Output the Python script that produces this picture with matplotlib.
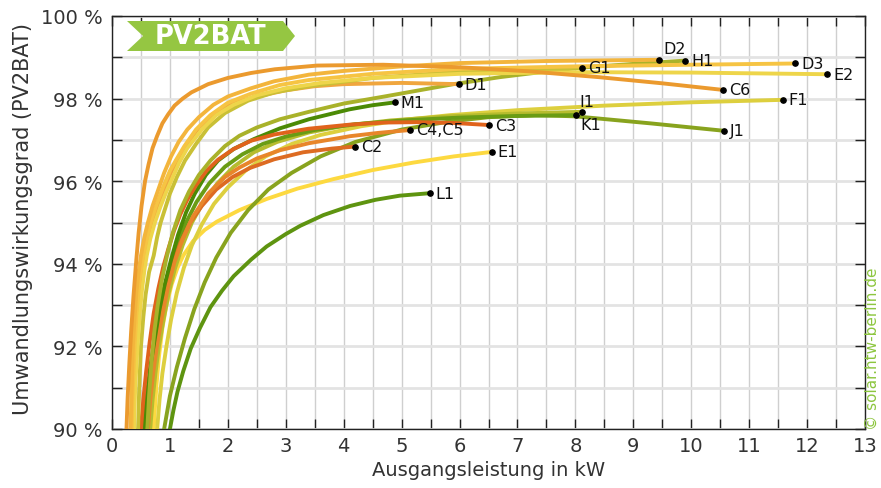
import numpy as np
import matplotlib
matplotlib.use('Agg')
import matplotlib.pyplot as plt
from matplotlib.patches import Polygon

# efficiency curves: output power (kW) and efficiency (%)
c6_kw = [0.25, 0.27, 0.3, 0.33, 0.37, 0.42, 0.46, 0.51, 0.57, 0.63, 0.7, 0.78, 0.87, 0.97, 1.08, 1.22, 1.37,
         1.66, 2.0, 2.4, 2.81, 3.54, 4.68, 6.0, 7.2, 8.4, 9.5, 10.55]
c6_eta = [90.0, 90.75, 91.6, 92.35, 93.2, 94.1, 94.75, 95.4, 96.0, 96.4, 96.8, 97.1, 97.4, 97.62, 97.83, 98.0, 98.15,
          98.35, 98.5, 98.62, 98.71, 98.8, 98.82, 98.76, 98.66, 98.52, 98.37, 98.21]

d2_kw = [0.32, 0.34, 0.36, 0.39, 0.42, 0.46, 0.5, 0.56, 0.62, 0.7, 0.8, 0.9, 1.02, 1.15, 1.3, 1.5, 1.75, 2.0,
         2.4, 2.8, 3.4, 4.0, 5.0, 6.0, 7.5, 9.45]
d2_eta = [90.0, 91.0, 92.0, 92.7, 93.3, 93.8, 94.2, 94.65, 95.0, 95.4, 95.8, 96.2, 96.6, 96.95, 97.25, 97.55, 97.85, 98.05,
          98.25, 98.42, 98.58, 98.67, 98.78, 98.86, 98.91, 98.94]

d3_kw = [0.34, 0.36, 0.39, 0.42, 0.46, 0.5, 0.54, 0.6, 0.67, 0.76, 0.88, 1.0, 1.1, 1.25, 1.45, 1.7, 2.0, 2.4,
         2.9, 3.4, 4.5, 6.0, 8.0, 10.0, 11.8]
d3_eta = [90.0, 91.0, 92.0, 92.75, 93.4, 93.85, 94.2, 94.6, 95.0, 95.4, 95.85, 96.25, 96.5, 96.85, 97.25, 97.6, 97.9, 98.12,
          98.33, 98.45, 98.6, 98.72, 98.78, 98.82, 98.85]

e2_kw = [0.38, 0.4, 0.44, 0.48, 0.52, 0.56, 0.6, 0.66, 0.74, 0.84, 0.94, 1.05, 1.16, 1.3, 1.55, 1.8, 2.1, 2.5,
         3.0, 3.6, 4.5, 6.0, 8.0, 10.0, 12.35]
e2_eta = [90.0, 91.0, 92.0, 92.8, 93.4, 93.85, 94.2, 94.6, 95.0, 95.4, 95.75, 96.1, 96.45, 96.8, 97.25, 97.6, 97.85, 98.08,
          98.25, 98.38, 98.5, 98.6, 98.64, 98.63, 98.59]

g1_kw = [0.45, 0.47, 0.5, 0.54, 0.58, 0.64, 0.72, 0.78, 0.84, 0.92, 1.0, 1.12, 1.26, 1.45, 1.66, 1.95, 2.35, 2.8,
         3.4, 4.5, 6.0, 8.12]
g1_eta = [90.0, 91.0, 92.0, 92.7, 93.25, 93.8, 94.2, 94.65, 95.0, 95.35, 95.7, 96.1, 96.5, 96.9, 97.3, 97.65, 97.95, 98.15,
          98.3, 98.5, 98.65, 98.75]

d1_kw = [0.36, 0.38, 0.42, 0.45, 0.48, 0.52, 0.57, 0.63, 0.7, 0.8, 0.9, 1.0, 1.12, 1.3, 1.5, 1.8, 2.1, 2.5,
         3.0, 3.5, 4.0, 5.0, 5.99]
d1_eta = [90.0, 91.0, 92.0, 92.7, 93.2, 93.75, 94.2, 94.6, 95.0, 95.45, 95.8, 96.15, 96.5, 96.9, 97.3, 97.65, 97.9, 98.05,
          98.2, 98.3, 98.35, 98.38, 98.35]

h1_kw = [0.61, 0.64, 0.68, 0.73, 0.79, 0.86, 0.95, 1.05, 1.18, 1.33, 1.5, 1.7, 1.95, 2.2, 2.5, 2.9, 3.4, 4.0,
         4.7, 5.3, 5.9, 6.7, 7.4, 8.1, 9.0, 9.9]
h1_eta = [90.0, 90.8, 91.6, 92.35, 93.0, 93.6, 94.2, 94.75, 95.3, 95.75, 96.15, 96.5, 96.85, 97.1, 97.3, 97.5, 97.68, 97.88,
          98.05, 98.2, 98.35, 98.52, 98.64, 98.75, 98.84, 98.92]

c3_kw = [0.5, 0.54, 0.59, 0.65, 0.72, 0.8, 0.88, 0.97, 1.07, 1.18, 1.3, 1.45, 1.63, 1.83, 2.1, 2.4, 2.8, 3.39,
         4.11, 4.7, 5.26, 5.9, 6.51]
c3_eta = [90.0, 90.7, 91.4, 92.1, 92.8, 93.4, 93.9, 94.35, 94.8, 95.2, 95.55, 95.9, 96.25, 96.52, 96.78, 96.98, 97.13, 97.27,
          97.37, 97.42, 97.43, 97.41, 97.36]

m1_kw = [0.55, 0.6, 0.66, 0.74, 0.82, 0.91, 1.02, 1.14, 1.28, 1.43, 1.62, 1.83, 2.1, 2.45, 2.9, 3.4, 4.1, 4.5, 4.89]
m1_eta = [90.0, 90.8, 91.5, 92.2, 92.9, 93.5, 94.1, 94.7, 95.25, 95.7, 96.15, 96.5, 96.78, 97.02, 97.28, 97.5, 97.74, 97.84, 97.91]

c45_kw = [0.62, 0.66, 0.71, 0.78, 0.86, 0.96, 1.08, 1.22, 1.4, 1.66, 1.95, 2.2, 2.5, 2.9, 3.4, 4.11, 4.6, 5.15]
c45_eta = [90.0, 90.7, 91.35, 92.05, 92.7, 93.4, 94.05, 94.6, 95.15, 95.7, 96.1, 96.33, 96.55, 96.75, 96.92, 97.09, 97.17, 97.24]

c2_kw = [0.58, 0.62, 0.67, 0.74, 0.82, 0.92, 1.04, 1.18, 1.35, 1.55, 1.8, 2.08, 2.38, 2.8, 3.3, 3.8, 4.2]
c2_eta = [90.0, 90.7, 91.35, 92.05, 92.7, 93.35, 93.95, 94.5, 95.0, 95.4, 95.8, 96.1, 96.32, 96.53, 96.7, 96.79, 96.84]

k1_kw = [0.58, 0.62, 0.67, 0.73, 0.8, 0.89, 1.0, 1.13, 1.28, 1.46, 1.68, 1.95, 2.25, 2.6, 3.0, 3.5, 4.2, 5.0,
         6.0, 7.0, 8.01]
k1_eta = [90.0, 90.7, 91.35, 92.0, 92.6, 93.25, 93.9, 94.5, 95.0, 95.5, 95.95, 96.35, 96.65, 96.9, 97.08, 97.24, 97.38, 97.47,
          97.54, 97.58, 97.6]

i1_kw = [0.66, 0.7, 0.75, 0.81, 0.89, 0.98, 1.09, 1.22, 1.38, 1.58, 1.82, 2.1, 2.45, 2.85, 3.4, 4.0, 4.8, 5.8,
         7.0, 8.11]
i1_eta = [90.0, 90.7, 91.35, 92.0, 92.65, 93.3, 93.9, 94.45, 95.0, 95.5, 95.95, 96.35, 96.7, 96.95, 97.18, 97.34, 97.47, 97.57,
          97.64, 97.68]

f1_kw = [0.78, 0.82, 0.87, 0.94, 1.02, 1.12, 1.24, 1.38, 1.55, 1.76, 2.0, 2.3, 2.65, 3.1, 3.6, 4.3, 5.0, 5.84,
         7.0, 8.5, 10.0, 11.58]
f1_eta = [90.0, 90.7, 91.35, 92.0, 92.65, 93.3, 93.9, 94.45, 94.95, 95.45, 95.85, 96.25, 96.6, 96.9, 97.12, 97.33, 97.48, 97.6,
          97.72, 97.83, 97.91, 97.97]

j1_kw = [0.9, 1.0, 1.12, 1.26, 1.42, 1.6, 1.8, 2.05, 2.35, 2.7, 3.1, 3.6, 4.2, 5.0, 5.8, 6.5, 7.3, 8.0, 9.3, 10.57]
j1_eta = [90.0, 90.8, 91.5, 92.2, 92.9, 93.55, 94.15, 94.75, 95.3, 95.8, 96.2, 96.6, 96.95, 97.25, 97.44, 97.55, 97.6, 97.57,
          97.4, 97.22]

e1_kw = [0.72, 0.74, 0.77, 0.81, 0.87, 0.94, 1.03, 1.13, 1.23, 1.4, 1.6, 1.81, 2.2, 2.67, 3.2, 3.82, 4.5, 5.2, 5.9, 6.56]
e1_eta = [90.0, 90.5, 91.1, 91.75, 92.45, 93.0, 93.5, 93.9, 94.2, 94.55, 94.82, 95.02, 95.3, 95.57, 95.82, 96.05, 96.27, 96.45,
          96.6, 96.71]

l1_kw = [1.0, 1.06, 1.13, 1.23, 1.36, 1.52, 1.7, 1.9, 2.1, 2.4, 2.67, 3.0, 3.25, 3.65, 4.11, 4.55, 4.97, 5.49]
l1_eta = [90.0, 90.45, 90.9, 91.4, 91.95, 92.45, 92.95, 93.35, 93.7, 94.1, 94.42, 94.72, 94.92, 95.18, 95.4, 95.55, 95.65, 95.71]

# name, x, y, colour, label offset (points)
curves = [
    ('L1', l1_kw, l1_eta, '#5e9410', (4, 0)),
    ('E1', e1_kw, e1_eta, '#fdd940', (4, 0)),
    ('J1', j1_kw, j1_eta, '#88a31e', (4, 0)),
    ('F1', f1_kw, f1_eta, '#ddcf3e', (4, 0)),
    ('I1', i1_kw, i1_eta, '#b6bc2e', (-1.5, 7.5)),
    ('K1', k1_kw, k1_eta, '#6a9c14', (3, -6.5)),
    ('C2', c2_kw, c2_eta, '#dd6b22', (4, 0)),
    ('C4,C5', c45_kw, c45_eta, '#e8862a', (4, 0)),
    ('M1', m1_kw, m1_eta, '#4b8a05', (4, 0)),
    ('C3', c3_kw, c3_eta, '#e0631c', (4, 0)),
    ('H1', h1_kw, h1_eta, '#a9b22a', (4, 0)),
    ('D1', d1_kw, d1_eta, '#f0a63e', (4, 0)),
    ('G1', g1_kw, g1_eta, '#c9c036', (4, 0)),
    ('E2', e2_kw, e2_eta, '#eed54a', (4, 0)),
    ('D3', d3_kw, d3_eta, '#f6c443', (4, 0)),
    ('D2', d2_kw, d2_eta, '#f3b53c', (3, 8)),
    ('C6', c6_kw, c6_eta, '#eb9a2e', (4, 0)),
]

W, H = 881, 489
fig = plt.figure(figsize=(W / 100, H / 100), dpi=100)
ax = fig.add_axes([112 / W, 1 - 430 / H, (865 - 112) / W, (430 - 17) / H])

for name, x, y, col, off in curves:
    ax.plot(x, y, color=col, lw=2.8, solid_joinstyle='round', zorder=3)
for name, x, y, col, off in curves:
    ax.plot(x[-1], y[-1], 'o', color='black', ms=3.8, zorder=5)
    ax.annotate(name, (x[-1], y[-1]), xytext=off, textcoords='offset points',
                ha='left', va='center', fontsize=11.5, color='#111111', zorder=6)

ax.set_xlim(0, 13)
ax.set_ylim(90, 100)
ax.set_xticks(np.arange(0, 14, 1))
ax.set_xticks(np.arange(0, 13.01, 0.5), minor=True)
ax.set_yticks(np.arange(90, 101, 2))
ax.set_yticks(np.arange(90, 100.1, 1), minor=True)
ax.set_yticklabels([f'{v} %' for v in range(90, 101, 2)])
ax.tick_params(which='both', direction='in', top=True, right=True, length=7,
               width=1, color='#222222', labelcolor='#333333', labelsize=14)
ax.tick_params(axis='y', pad=7)
ax.tick_params(axis='x', pad=5)
ax.grid(which='both', axis='x', color='#cfcfcf', lw=1)
ax.grid(which='both', axis='y', color='#e3e3e3', lw=2)
ax.set_axisbelow(True)
for s in ax.spines.values():
    s.set_color('#222222')
    s.set_linewidth(1)

ax.set_xlabel('Ausgangsleistung in kW', fontsize=14, color='#333333')
ax.xaxis.set_label_coords(0.5, -0.075)
ax.set_ylabel('Umwandlungswirkungsgrad (PV2BAT)', fontsize=15, color='#333333')
ax.yaxis.set_label_coords(-0.105, 0.51)

# PV2BAT banner
pts = [(127, 22), (283, 22), (295, 37), (283, 52), (127, 52), (143, 37)]
fig.patches.append(Polygon([(px / W, 1 - py / H) for px, py in pts], closed=True,
                           transform=fig.transFigure, facecolor='#95c642',
                           edgecolor='none', zorder=10))
fig.text(210 / W, 1 - 37.5 / H, 'PV2BAT', ha='center', va='center', color='white',
         fontsize=18.5, fontweight='bold', zorder=11)

fig.text(872 / W, 1 - 430 / H, '\u00a9 solar.htw-berlin.de', rotation=90,
         ha='center', va='bottom', color='#8dc63f', fontsize=11)

fig.savefig('out.png', dpi=100)
